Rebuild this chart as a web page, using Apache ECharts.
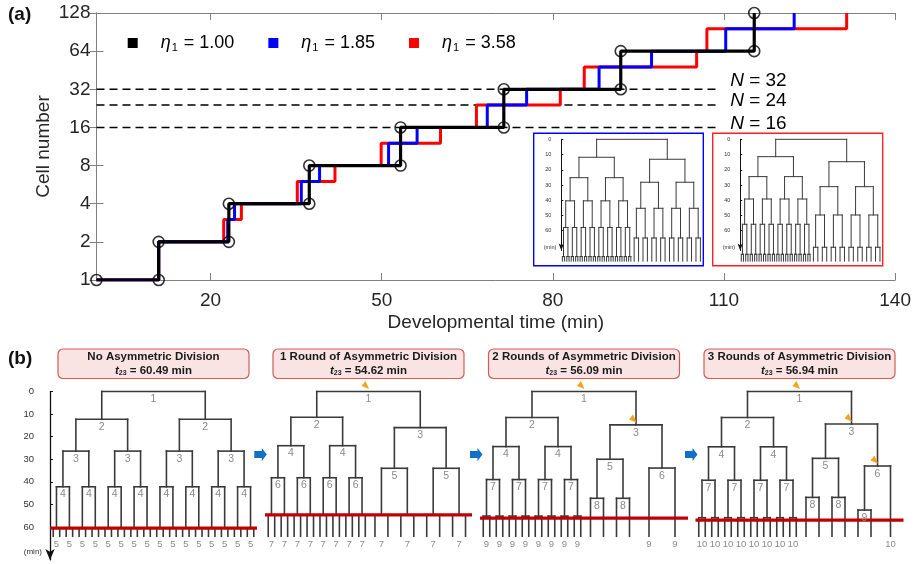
<!DOCTYPE html>
<html><head><meta charset="utf-8">
<script src="https://cdn.jsdelivr.net/npm/echarts@6/dist/echarts.min.js"></script>
<style>html,body{margin:0;padding:0;background:#fff}#c{width:914px;height:564px}</style>
</head><body><div id="c"></div>
<script>
// ---------------- Panel (a) data ----------------
const xTickValues = [20, 50, 80, 110, 140];
const blackTimes = [0, 10.9, 23.2, 37.3, 53.3, 71.4, 91.9, 115.3];
const blackCells = [1, 2, 4, 8, 16, 32, 64, 128];
const blueTimes = [0, 10.9, 23.0, 24.2, 35.9, 39.1, 51.2, 56.2, 68.5, 75.4, 88.1, 97.3, 110.3, 122.3];
const blueCells = [1, 2, 3, 4, 6, 8, 12, 16, 24, 32, 48, 64, 96, 128];
const redTimes = [0, 10.9, 22.3, 25.4, 35.2, 41.8, 49.9, 60.3, 66.6, 81.3, 85.5, 105.2, 107.0, 131.5];
const redCells = [1, 2, 3, 4, 6, 8, 12, 16, 24, 32, 48, 64, 96, 128];
const etaValues = ['1.00', '1.85', '3.58'];
const thresholdN = [32, 24, 16];
const thresholdEnd = 108.8;

// inset dendrograms: [path pattern, division time (min)]
const insetTicks = [0, 10, 20, 30, 40, 50, 60];
const insetEnd = 80;
const insetBlueTree = [["", 0], ["0", 11.8], ["1", 13.1], ["0*", 25.2], ["1*", 28.2], ["0**", 40.4], ["1**", 45.3], ["0***", 57.9], ["1***", 64.8], ["0****", 77.0]];
const insetRedTree = [["", 0], ["0", 11.4], ["1", 14.7], ["0*", 24.5], ["1*", 31.1], ["0**", 39.2], ["1**", 49.7], ["0***", 55.8], ["1***", 70.9], ["0****", 75.5]];

// ---------------- Panel (b) data ----------------
const treeTitles = ['No Asymmetric Division', '1 Round of Asymmetric Division', '2 Rounds of Asymmetric Division', '3 Rounds of Asymmetric Division'];
const t23 = [60.49, 54.62, 56.09, 56.94];
const treeTicks = [0, 10, 20, 30, 40, 50, 60];
const treeEnd = 64.1;
const tree1Nodes = [["", 0, "1"], ["*", 12.3, "2"], ["**", 26.4, "3"], ["***", 42.2, "4"], ["****", 60.49, ""]];
const tree1Bottom = [["****", "5"]];
const tree1Asym = [];
const tree2Nodes = [["", 0, "1"], ["0", 11.4, "2"], ["1", 16.0, "3"], ["0*", 24.0, "4"], ["1*", 34.0, "5"], ["0**", 38.2, "6"], ["0***", 54.62, ""], ["1**", 54.62, ""]];
const tree2Bottom = [["0***", "7"], ["1**", "7"]];
const tree2Asym = [""];
const tree3Nodes = [["", 0, "1"], ["0", 11.5, "2"], ["1", 14.8, "3"], ["0*", 24.4, "4"], ["10", 30.0, "5"], ["11", 33.9, "6"], ["0**", 39.0, "7"], ["10*", 47.3, "8"], ["0***", 55.2, ""]];
const tree3Bottom = [["0***", "9"], ["11*", "9"]];
const tree3Asym = ["", "1"];
const tree4Nodes = [["", 0, "1"], ["0", 11.5, "2"], ["1", 14.4, "3"], ["0*", 24.5, "4"], ["10", 29.6, "5"], ["11", 33.0, "6"], ["0**", 39.3, "7"], ["10*", 46.9, "8"], ["110", 52.5, "9"], ["0***", 55.9, ""]];
const tree4Bottom = [["0***", "10"], ["111", "10"]];
const tree4Asym = ["", "1", "11"];

// ---------------- helpers ----------------
const FONT = '"Liberation Sans", Arial, Helvetica, sans-serif';
function expandPattern(p) {
  let out = [''];
  for (const ch of p) {
    const nxt = [];
    out.forEach(s => { if (ch === '*') nxt.push(s + '0', s + '1'); else nxt.push(s + ch); });
    out = nxt;
  }
  return out;
}
function pathX(path) { let a = 0, b = 1; for (const ch of path) { const m = (a + b) / 2; if (ch === '0') b = m; else a = m; } return (a + b) / 2; }
function buildTree(nodes, tEnd, bottom, asym) {
  const map = {};
  nodes.forEach(n => expandPattern(n[0]).forEach(q => { map[q] = { t: n[1], lab: n[2] || '' }; }));
  const segs = [], labs = [], bots = [], marks = [];
  (function rec(path, a, b, tp) {
    const x = (a + b) / 2, n = map[path];
    if (n) {
      if (path !== '') segs.push([x, tp, x, n.t]);
      segs.push([(a + x) / 2, n.t, (x + b) / 2, n.t]);
      if (n.lab) labs.push([x, n.t, n.lab]);
      rec(path + '0', a, x, n.t); rec(path + '1', x, b, n.t);
    } else segs.push([x, tp, x, tEnd]);
  })('', 0, 1, 0);
  (bottom || []).forEach(bb => expandPattern(bb[0]).forEach(q => bots.push([pathX(q), bb[1]])));
  (asym || []).forEach(p => marks.push([pathX(p), map[p].t]));
  return { segs, labs, bots, marks };
}

// ---------------- layout constants ----------------
const mainGrid = { left: 96.5, top: 13, width: 799, height: 267 };
const insetPx = 1.523, insetTop = 139.3, insetMax = 73;
const insetGrids = [{ left: 561.3, width: 141.3, off: 7 }, { left: 740.2, width: 142, off: 6.9 }];
const treePx = 2.258, treeTop = 391.5, treeMax = 74.6;
const treeLefts = [50, 265, 480, 695.5], treeWidths = [207, 207, 208, 208];
const bottomLabelT = 67.9;

const grids = [], xAxes = [], yAxes = [], series = [];
grids.push(mainGrid);
const axisGray = '#808080', tickText = '#262626';
xAxes.push({
  gridIndex: 0, type: 'value', min: 0, max: 140,
  axisLine: { lineStyle: { color: axisGray, width: 1 } },
  axisTick: { inside: true, length: 7, customValues: xTickValues, lineStyle: { color: axisGray } },
  axisLabel: { customValues: xTickValues, fontSize: 19, color: tickText, fontFamily: FONT, margin: 11 },
  splitLine: { show: false },
  name: 'Developmental time (min)', nameLocation: 'middle', nameGap: 33, nameMoveOverlap: false,
  nameTextStyle: { fontSize: 19, color: tickText, fontFamily: FONT }
});
xAxes.push({
  gridIndex: 0, type: 'value', min: 0, max: 140, position: 'top',
  axisLine: { lineStyle: { color: axisGray, width: 1 } },
  axisTick: { inside: true, length: 7, customValues: xTickValues, lineStyle: { color: axisGray } },
  axisLabel: { show: false }, splitLine: { show: false }
});
yAxes.push({
  gridIndex: 0, type: 'log', logBase: 2, min: 1, max: 128,
  axisLine: { show: true, lineStyle: { color: axisGray, width: 1 } },
  axisTick: { show: true, inside: true, length: 7, lineStyle: { color: axisGray } },
  axisLabel: { fontSize: 19, color: tickText, fontFamily: FONT, margin: 6 },
  splitLine: { show: false }, minorTick: { show: false },
  name: 'Cell number', nameLocation: 'middle', nameGap: 43, nameMoveOverlap: false,
  nameTextStyle: { fontSize: 19, color: tickText, fontFamily: FONT }
});
yAxes.push({
  gridIndex: 0, type: 'log', logBase: 2, min: 1, max: 128, position: 'right',
  axisLine: { show: true, lineStyle: { color: axisGray, width: 1 } },
  axisTick: { show: true, inside: true, length: 7, lineStyle: { color: axisGray } },
  axisLabel: { show: false }, splitLine: { show: false }
});

// insets (axis index 2,3 ; grid 1,2)
[insetBlueTree, insetRedTree].forEach((tr, k) => {
  const g = insetGrids[k];
  grids.push({ left: g.left, width: g.width, top: insetTop, height: insetMax * insetPx });
  xAxes.push({ gridIndex: 1 + k, type: 'value', min: 0, max: 1, show: false });
  yAxes.push({
    gridIndex: 1 + k, type: 'value', inverse: true, min: 0, max: insetMax, offset: g.off,
    axisLine: { show: true, lineStyle: { color: '#111', width: 1 }, symbol: ['arrow', 'none'], symbolSize: [4, 7] },
    axisTick: { show: true, inside: true, length: 2, customValues: insetTicks, lineStyle: { color: '#111' } },
    axisLabel: { customValues: insetTicks, fontSize: 5.5, color: '#333', margin: 3, fontFamily: FONT },
    splitLine: { show: false },
    name: '(min)', nameLocation: 'end', nameGap: -3,
    nameTextStyle: { fontSize: 5.5, color: '#333', align: 'right', verticalAlign: 'middle', padding: [0, 5, 0, 0], fontFamily: FONT }
  });
});

// bottom trees (axis index 4..7 ; grid 3..6)
const treeSpecs = [[tree1Nodes, tree1Bottom, tree1Asym], [tree2Nodes, tree2Bottom, tree2Asym], [tree3Nodes, tree3Bottom, tree3Asym], [tree4Nodes, tree4Bottom, tree4Asym]];
treeSpecs.forEach((s, k) => {
  grids.push({ left: treeLefts[k], width: treeWidths[k], top: treeTop, height: treeMax * treePx });
  xAxes.push({ gridIndex: 3 + k, type: 'value', min: 0, max: 1, show: false });
  yAxes.push({
    gridIndex: 3 + k, type: 'value', inverse: true, min: 0, max: treeMax, offset: 10, show: k === 0,
    axisLine: { show: true, lineStyle: { color: '#111', width: 1.3 }, symbol: ['arrow', 'none'], symbolSize: [7, 11] },
    axisTick: { show: true, inside: true, length: 3, customValues: treeTicks, lineStyle: { color: '#111' } },
    axisLabel: { customValues: treeTicks, fontSize: 9.5, color: '#333', margin: 6, fontFamily: FONT },
    splitLine: { show: false },
    name: '(min)', nameLocation: 'end', nameGap: -8,
    nameTextStyle: { fontSize: 8, color: '#333', align: 'right', verticalAlign: 'middle', padding: [0, 8, 0, 0], fontFamily: FONT }
  });
});

// ---------------- series: panel (a) ----------------
function stepData(ts, vs) { return ts.map((t, i) => [t, vs[i]]); }
const stepCommon = { type: 'line', step: 'end', symbol: 'none', xAxisIndex: 0, yAxisIndex: 0, silent: true };
series.push(Object.assign({ name: etaValues[2], data: stepData(redTimes, redCells), z: 3,
  lineStyle: { color: '#ff0000', width: 3 }, itemStyle: { color: '#ff0000' } }, stepCommon));
series.push(Object.assign({ name: etaValues[1], data: stepData(blueTimes, blueCells), z: 4,
  lineStyle: { color: '#0000ff', width: 3 }, itemStyle: { color: '#0000ff' } }, stepCommon));
series.push(Object.assign({ name: etaValues[0], data: stepData(blackTimes, blackCells), z: 5,
  lineStyle: { color: '#000000', width: 3.2 }, itemStyle: { color: '#000000' } }, stepCommon));
const circlePts = [[blackTimes[0], blackCells[0]]];
for (let i = 1; i < blackTimes.length; i++) { circlePts.push([blackTimes[i], blackCells[i - 1]], [blackTimes[i], blackCells[i]]); }
series.push({ type: 'scatter', xAxisIndex: 0, yAxisIndex: 0, data: circlePts, symbol: 'circle', symbolSize: 11, z: 6, silent: true,
  itemStyle: { color: 'rgba(0,0,0,0)', borderColor: '#000', borderWidth: 1.6 } });
const nOffsets = [-9, -4.5, -4];
thresholdN.forEach((n, k) => {
  series.push({ type: 'line', xAxisIndex: 0, yAxisIndex: 0, data: [[0, n], [thresholdEnd, n]], symbol: 'none', silent: true, z: 2,
    lineStyle: { color: '#000', width: 1.5, type: [8, 5] },
    endLabel: { show: true, distance: 13, offset: [0, nOffsets[k]], formatter: '{i|N}{n| = ' + n + '}',
      rich: { i: { fontSize: 19, fontStyle: 'italic', fontFamily: FONT, color: '#000' }, n: { fontSize: 19, fontFamily: FONT, color: '#000' } } } });
});

// ---------------- dendrogram series ----------------
function segSeries(ai, segs, color, lw, z) {
  return { type: 'custom', xAxisIndex: ai, yAxisIndex: ai, data: segs, clip: false, silent: true, z: z || 2,
    encode: { x: [0, 2], y: [1, 3] },
    renderItem: (params, api) => {
      const p1 = api.coord([api.value(0), api.value(1)]), p2 = api.coord([api.value(2), api.value(3)]);
      return { type: 'line', shape: { x1: p1[0], y1: p1[1], x2: p2[0], y2: p2[1] }, style: { stroke: color, lineWidth: lw, lineCap: 'square' } };
    } };
}
function textSeries(ai, items, dy, fontSize) {
  return { type: 'custom', xAxisIndex: ai, yAxisIndex: ai, data: items.map(d => [d[0], d[1]]), clip: false, silent: true, z: 4,
    encode: { x: 0, y: 1 },
    renderItem: (params, api) => {
      const p = api.coord([api.value(0), api.value(1)]);
      return { type: 'text', x: p[0], y: p[1] + dy, style: { text: items[params.dataIndex][2], fill: '#8a8a8a', font: fontSize + 'px ' + FONT, align: 'center', verticalAlign: 'middle' } };
    } };
}
function markSeries(ai, marks) {
  return { type: 'custom', xAxisIndex: ai, yAxisIndex: ai, data: marks, clip: false, silent: true, z: 5,
    encode: { x: 0, y: 1 },
    renderItem: (params, api) => {
      const p = api.coord([api.value(0), api.value(1)]);
      return { type: 'polygon', shape: { points: [[p[0] + 0.5, p[1] - 2.5], [p[0] - 7, p[1] - 5.5], [p[0] - 3, p[1] - 10.5]] }, style: { fill: '#f7a21b' } };
    } };
}
// insets
[insetBlueTree, insetRedTree].forEach((tr, k) => {
  const b = buildTree(tr.map(d => [d[0], d[1], '']), insetEnd, [], []);
  series.push(segSeries(2 + k, b.segs, '#3a3a3a', 1, 2));
});
// bottom trees
treeSpecs.forEach((s, k) => {
  const ai = 4 + k;
  const b = buildTree(s[0], treeEnd, s[1], s[2]);
  series.push(segSeries(ai, b.segs, '#3a3a3a', 1.6, 2));
  series.push(textSeries(ai, b.labs, 7.8, 10.5));
  series.push(textSeries(ai, b.bots.map(d => [d[0], bottomLabelT, d[1]]), 0, 9.5));
  series.push(markSeries(ai, b.marks));
  series.push({ type: 'line', xAxisIndex: ai, yAxisIndex: ai, data: [[0, t23[k]], [1, t23[k]]], symbol: 'none', silent: true, z: 3,
    lineStyle: { color: '#c00000', width: 3.2 } });
});

// ---------------- graphics ----------------
const graphic = [
  { type: 'text', left: 8, top: 5, style: { text: '(a)', font: 'bold 19px ' + FONT, fill: '#111' } },
  { type: 'text', left: 8, top: 349, style: { text: '(b)', font: 'bold 19px ' + FONT, fill: '#111' } },
  { type: 'rect', shape: { x: 533.7, y: 133.3, width: 169.6, height: 132.4 }, style: { fill: 'none', stroke: '#0000ff', lineWidth: 1.4 }, z: 10 },
  { type: 'rect', shape: { x: 712.7, y: 133.3, width: 170, height: 132.4 }, style: { fill: 'none', stroke: '#ff2020', lineWidth: 1.4 }, z: 10 }
];
treeTitles.forEach((title, k) => {
  const cx = treeLefts[k] + treeWidths[k] / 2;
  graphic.push({ type: 'rect', shape: { x: cx - 95.5, y: 349, width: 191, height: 29.5, r: 5 }, style: { fill: '#fae3e3', stroke: '#d25a5a', lineWidth: 1.2 }, z: 10 });
  graphic.push({ type: 'text', x: cx, y: 363.8, z: 11, style: {
    text: '{b|' + title + '}\n{i|t}{s|23}{b| = ' + t23[k].toFixed(2) + ' min}',
    align: 'center', verticalAlign: 'middle',
    rich: {
      b: { font: 'bold 11.5px ' + FONT, fill: '#1a1a1a', lineHeight: 13.5 },
      i: { font: 'italic bold 11.5px ' + FONT, fill: '#1a1a1a', lineHeight: 13.5 },
      s: { font: 'bold 7px ' + FONT, fill: '#1a1a1a', lineHeight: 13.5, padding: [6, 0, 0, 0] }
    } } });
});
[254.3, 470, 685].forEach(x => {
  const y = 454.5;
  graphic.push({ type: 'polygon', z: 10, shape: { points: [[x, y - 3.5], [x + 7.5, y - 3.5], [x + 7.5, y - 6.5], [x + 12.5, y], [x + 7.5, y + 6.5], [x + 7.5, y + 3.5], [x, y + 3.5]] }, style: { fill: '#1170c6' } });
});

const option = {
  animation: false,
  backgroundColor: '#fff',
  grid: grids, xAxis: xAxes, yAxis: yAxes, series: series, graphic: graphic,
  legend: {
    data: etaValues.map(n => ({ name: n, icon: 'rect' })),
    left: 122.7, top: 29, itemWidth: 10, itemHeight: 10, itemGap: 34, selectedMode: false,
    formatter: n => '{sp| }{i|η}{s|1}{n| = ' + n + '}',
    textStyle: { color: '#000', fontFamily: FONT, rich: {
      sp: { width: 18 },
      i: { fontSize: 18, fontStyle: 'italic', fontFamily: FONT, color: '#000' },
      s: { fontSize: 11, fontFamily: FONT, color: '#000', padding: [9, 1, 0, 1] },
      n: { fontSize: 18, fontFamily: FONT, color: '#000' } } }
  }
};
const chart = echarts.init(document.getElementById('c'), null, { renderer: 'canvas' });
chart.setOption(option);
</script></body></html>
